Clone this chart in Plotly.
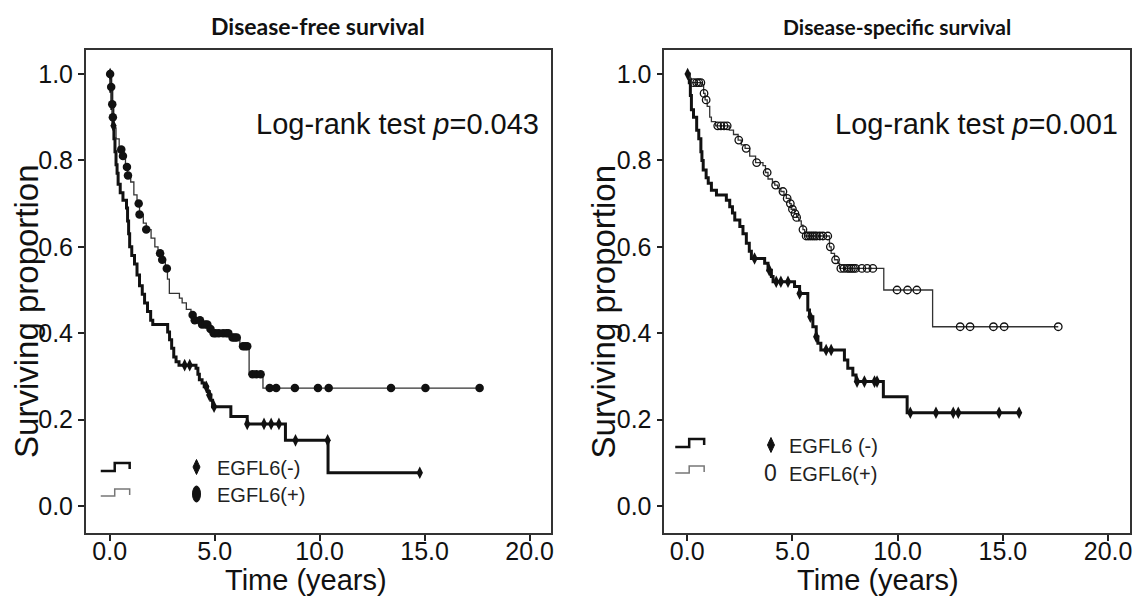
import numpy as np
import plotly.graph_objects as go

# ---------------- data ----------------
# Disease-free survival, EGFL6(-)  (thick line, diamonds)
dfs_neg_t = [0, 0.05, 0.1, 0.15, 0.2, 0.25, 0.3, 0.35, 0.4, 0.5, 0.63, 0.8, 0.85, 0.9, 0.95,
             1.05, 1.18, 1.3, 1.42, 1.55, 1.66, 1.8, 1.95, 2.05, 2.76, 2.85, 2.95, 3.05, 3.16,
             3.3, 4.11, 4.2, 4.27, 4.4, 4.5, 4.65, 4.74, 4.82, 4.9, 5.77, 6.55, 8.37, 10.4]
dfs_neg_s = [1.0, 0.96, 0.92, 0.88, 0.85, 0.82, 0.79, 0.77, 0.745, 0.725, 0.708, 0.69, 0.66, 0.63, 0.60,
             0.58, 0.56, 0.535, 0.51, 0.49, 0.47, 0.45, 0.43, 0.42, 0.403, 0.385, 0.365, 0.345, 0.334,
             0.326, 0.319, 0.305, 0.292, 0.285, 0.276, 0.265, 0.257, 0.245, 0.23, 0.207, 0.19, 0.152, 0.077]
dfs_neg_end = 14.77
dfs_neg_cens = [0.02, 0.18, 3.57, 3.81, 4.6, 4.74, 4.97, 6.55, 7.35, 7.69, 8.06, 8.85, 10.38, 14.77]

# Disease-free survival, EGFL6(+)  (thin line, filled ellipses)
dfs_pos_t = [0, 0.05, 0.1, 0.14, 0.2, 0.3, 0.45, 0.6, 0.75, 0.85, 1.0, 1.15, 1.3, 1.42, 1.6,
             1.74, 1.97, 2.15, 2.3, 2.45, 2.65, 2.75, 2.84, 3.32, 3.45, 3.65, 3.87, 4.0, 4.4,
             4.7, 4.85, 5.75, 6.2, 6.64, 7.3]
dfs_pos_s = [1.0, 0.97, 0.93, 0.90, 0.875, 0.85, 0.825, 0.81, 0.785, 0.765, 0.75, 0.72, 0.70, 0.675, 0.655,
             0.64, 0.62, 0.60, 0.585, 0.57, 0.55, 0.525, 0.492, 0.481, 0.47, 0.455, 0.442, 0.43, 0.42,
             0.41, 0.40, 0.39, 0.37, 0.305, 0.273]
dfs_pos_end = 17.62
dfs_pos_cens = [0.02, 0.07, 0.12, 0.15, 0.55, 0.63, 0.82, 0.87, 1.38, 1.42, 1.74, 2.4, 2.5, 2.72,
                3.95, 4.05, 4.3, 4.4, 4.55, 4.65, 4.8, 4.95, 5.05, 5.2, 5.4, 5.55, 5.65,
                5.85, 5.95, 6.05, 6.35, 6.45, 6.55, 6.8, 6.98, 7.19,
                7.62, 7.93, 8.82, 9.92, 10.43, 13.4, 15.04, 17.62]

# Disease-specific survival, EGFL6(-)  (thick line, diamonds)
dss_neg_t = [0, 0.1, 0.15, 0.2, 0.3, 0.45, 0.55, 0.65, 0.7, 0.76, 0.9, 1.0, 1.15, 1.39, 1.86,
             2.02, 2.15, 2.26, 2.5, 2.65, 2.81, 2.95, 3.05, 3.68, 3.84, 4.0, 4.08, 5.1, 5.34,
             5.73, 5.81, 5.97, 6.13, 6.21, 6.35, 7.47, 7.63, 7.87, 8.02, 9.32, 10.45]
dss_neg_s = [1.0, 0.98, 0.95, 0.917, 0.90, 0.87, 0.85, 0.82, 0.80, 0.778, 0.76, 0.747, 0.731, 0.72, 0.708,
             0.693, 0.678, 0.662, 0.647, 0.63, 0.608, 0.59, 0.573, 0.562, 0.546, 0.531, 0.519, 0.508, 0.492,
             0.454, 0.438, 0.415, 0.392, 0.377, 0.361, 0.338, 0.319, 0.303, 0.288, 0.253, 0.216]
dss_neg_end = 15.77
dss_neg_cens = [0.02, 3.2, 3.9, 4.23, 4.45, 4.79, 5.34, 5.85, 6.13, 6.6, 6.84,
                8.07, 8.42, 8.9, 9.02, 10.6, 11.82, 12.64, 12.88, 14.82, 15.77]

# Disease-specific survival, EGFL6(+)  (thin line, open oval marks)
dss_pos_t = [0, 0.1, 0.2, 0.7, 0.78, 0.85, 0.95, 1.07, 1.15, 1.35, 2.0, 2.2, 2.42, 2.57, 2.75,
             2.97, 3.25, 3.6, 3.72, 3.84, 4.05, 4.16, 4.3, 4.45, 4.6, 4.71, 4.87, 4.94, 5.1,
             5.2, 5.3, 5.42, 5.5, 5.58, 6.76, 6.84, 7.0, 7.16, 7.24, 9.34, 11.66]
dss_pos_s = [1.0, 0.99, 0.98, 0.975, 0.955, 0.94, 0.925, 0.90, 0.89, 0.88, 0.87, 0.86, 0.847, 0.836, 0.828,
             0.81, 0.795, 0.788, 0.772, 0.757, 0.748, 0.743, 0.735, 0.728, 0.72, 0.712, 0.70, 0.687, 0.677,
             0.668, 0.66, 0.65, 0.64, 0.625, 0.60, 0.585, 0.57, 0.562, 0.55, 0.50, 0.415]
dss_pos_end = 17.63
dss_pos_cens = [0.3, 0.45, 0.55, 0.65, 0.8, 0.9, 1.45, 1.6, 1.75, 1.9, 2.45, 2.8, 3.3, 3.8, 4.2,
                4.55, 4.75, 4.9, 5.0, 5.12, 5.2, 5.5, 5.65, 5.75, 5.85, 5.95, 6.05, 6.15, 6.3,
                6.45, 6.68, 6.8, 7.05, 7.3, 7.45, 7.6, 7.7, 7.8, 7.9, 8.0, 8.3, 8.55, 8.82,
                9.97, 10.47, 10.91, 12.97, 13.44, 14.55, 15.06, 17.63]

panel_titles = ["Disease-free survival", "Disease-specific survival"]
pvalues = ["0.043", "0.001"]
x_ticks = [0, 5, 10, 15, 20]
y_ticks = [0.0, 0.2, 0.4, 0.6, 0.8, 1.0]

# ---------------- helpers ----------------
# the page body has an 8px margin: the figure starts 8px in from the window edges
OFF = 8
W, H = 1134, 588


def km_xy(t, s, end):
    return list(t) + [end], list(s) + [s[-1]]


def surv_at(t, s, c):
    idx = np.searchsorted(np.array(t), np.array(c), side="right") - 1
    return np.array(s)[idx]


def px(x):
    return (x - OFF) / W


def py(y):
    return 1 - (y - OFF) / H


def path(points):
    return "M " + " L ".join(f"{px(a):.5f},{py(b):.5f}" for a, b in points)


fig = go.Figure()

THICK = dict(color="#111111", width=3, shape="hv")
THIN = dict(color="#333333", width=1.3, shape="hv")

# ---- left panel ----
x, y = km_xy(dfs_neg_t, dfs_neg_s, dfs_neg_end)
fig.add_trace(go.Scatter(x=x, y=y, mode="lines", line=THICK, xaxis="x", yaxis="y"))
x, y = km_xy(dfs_pos_t, dfs_pos_s, dfs_pos_end)
fig.add_trace(go.Scatter(x=x, y=y, mode="lines", line=THIN, xaxis="x", yaxis="y"))
fig.add_trace(go.Scatter(x=dfs_neg_cens, y=surv_at(dfs_neg_t, dfs_neg_s, dfs_neg_cens), mode="markers",
                         marker=dict(symbol="diamond-tall", size=9, color="#111111"), xaxis="x", yaxis="y"))
fig.add_trace(go.Scatter(x=dfs_pos_cens, y=surv_at(dfs_pos_t, dfs_pos_s, dfs_pos_cens), mode="markers",
                         marker=dict(symbol="circle", size=8.5, color="#111111"), xaxis="x", yaxis="y"))

# ---- right panel ----
x, y = km_xy(dss_neg_t, dss_neg_s, dss_neg_end)
fig.add_trace(go.Scatter(x=x, y=y, mode="lines", line=THICK, xaxis="x2", yaxis="y2"))
x, y = km_xy(dss_pos_t, dss_pos_s, dss_pos_end)
fig.add_trace(go.Scatter(x=x, y=y, mode="lines", line=THIN, xaxis="x2", yaxis="y2"))
fig.add_trace(go.Scatter(x=dss_neg_cens, y=surv_at(dss_neg_t, dss_neg_s, dss_neg_cens), mode="markers",
                         marker=dict(symbol="diamond-tall", size=9, color="#111111"), xaxis="x2", yaxis="y2"))
fig.add_trace(go.Scatter(x=dss_pos_cens, y=surv_at(dss_pos_t, dss_pos_s, dss_pos_cens), mode="markers",
                         marker=dict(symbol="circle-open", size=7.5, color="#111111", line=dict(width=1.3)),
                         xaxis="x2", yaxis="y2"))

TICKFONT = dict(family="Liberation Sans", size=25, color="#111111")
ydom = [py(533), py(50)]
common_x = dict(tickmode="array", tickvals=x_ticks, tickformat=".1f", ticks="outside", ticklen=6,
                tickwidth=1.5, tickcolor="#222222", showline=True, linecolor="#333333", linewidth=1.5,
                mirror=True, showgrid=False, zeroline=False, tickfont=TICKFONT, ticklabelstandoff=-11)
common_y = dict(tickmode="array", tickvals=y_ticks, tickformat=".1f", ticks="outside", ticklen=6,
                tickwidth=1.5, tickcolor="#222222", showline=True, linecolor="#333333", linewidth=1.5,
                mirror=True, showgrid=False, zeroline=False, tickfont=TICKFONT,
                range=[-0.0625, 1.0556], domain=ydom)

fig.update_layout(
    width=W, height=H, margin=dict(l=0, r=0, t=0, b=0),
    paper_bgcolor="white", plot_bgcolor="white", showlegend=False,
    xaxis=dict(common_x, domain=[px(86), px(552)], range=[-1.14, 21.0], anchor="y"),
    yaxis=dict(common_y, anchor="x"),
    xaxis2=dict(common_x, domain=[px(666), px(1133)], range=[-1.09, 21.04], anchor="y2"),
    yaxis2=dict(common_y, anchor="x2"),
)

ann = []
# titles
for cx, txt, fs in zip([319, 899], panel_titles, [23, 21]):
    ann.append(dict(x=px(cx), y=py(26), xref="paper", yref="paper", text=f"<b>{txt}</b>", showarrow=False,
                    xanchor="center", yanchor="middle", font=dict(family="Lato", size=fs, color="#111111")))
# axis titles
for cx in [307, 880]:
    ann.append(dict(x=px(cx), y=py(580), xref="paper", yref="paper", text="Time (years)", showarrow=False,
                    xanchor="center", yanchor="middle", font=dict(family="Liberation Sans", size=29, color="#111111")))
for cx in [26, 605]:
    ann.append(dict(x=px(cx), y=py(311), xref="paper", yref="paper", text="Surviving proportion",
                    showarrow=False, textangle=-90, xanchor="center", yanchor="middle",
                    font=dict(family="Liberation Sans", size=33, color="#111111")))
# log-rank
for lx, pv in zip([255, 835], pvalues):
    ann.append(dict(x=px(lx), y=py(124), xref="paper", yref="paper", text=f"Log-rank test <i>p</i>={pv}",
                    showarrow=False, xanchor="left", yanchor="middle",
                    font=dict(family="Liberation Sans", size=29, color="#111111")))
# legend texts
LEGFONT = dict(family="Liberation Sans", size=20, color="#222222")
for lx, ly, txt in [(216, 468, "EGFL6(-)"), (216, 495, "EGFL6(+)"), (789, 446, "EGFL6 (-)"), (789, 474, "EGFL6(+)")]:
    ann.append(dict(x=px(lx), y=py(ly), xref="paper", yref="paper", text=txt, showarrow=False,
                    xanchor="left", yanchor="middle", font=LEGFONT))
ann.append(dict(x=px(773), y=py(473), xref="paper", yref="paper", text="0", showarrow=False,
                xanchor="center", yanchor="middle", font=dict(family="Liberation Sans", size=23, color="#222222")))
fig.update_layout(annotations=ann)

shapes = []
for (x0, yb, yt, thick) in [(101, 471, 463, True), (101, 496, 489, False), (677, 447, 439, True), (677, 473, 466, False)]:
    shapes.append(dict(type="path", xref="paper", yref="paper",
                       path=path([(x0, yb), (x0 + 14, yb), (x0 + 14, yt), (x0 + 29, yt), (x0 + 29, yt + 6)]),
                       line=dict(color="#111111" if thick else "#777777", width=2.5 if thick else 1.5)))
for (cx, cy) in [(197, 467), (773, 445)]:
    shapes.append(dict(type="path", xref="paper", yref="paper",
                       path=path([(cx, cy - 7.5), (cx + 3.5, cy), (cx, cy + 7.5), (cx - 3.5, cy)]) + " Z",
                       fillcolor="#111111", line=dict(color="#111111", width=1)))
shapes.append(dict(type="circle", xref="paper", yref="paper", x0=px(193), x1=px(201), y0=py(502), y1=py(486),
                   fillcolor="#111111", line=dict(color="#111111", width=1)))
fig.update_layout(shapes=shapes)

fig.write_html("out.html")
